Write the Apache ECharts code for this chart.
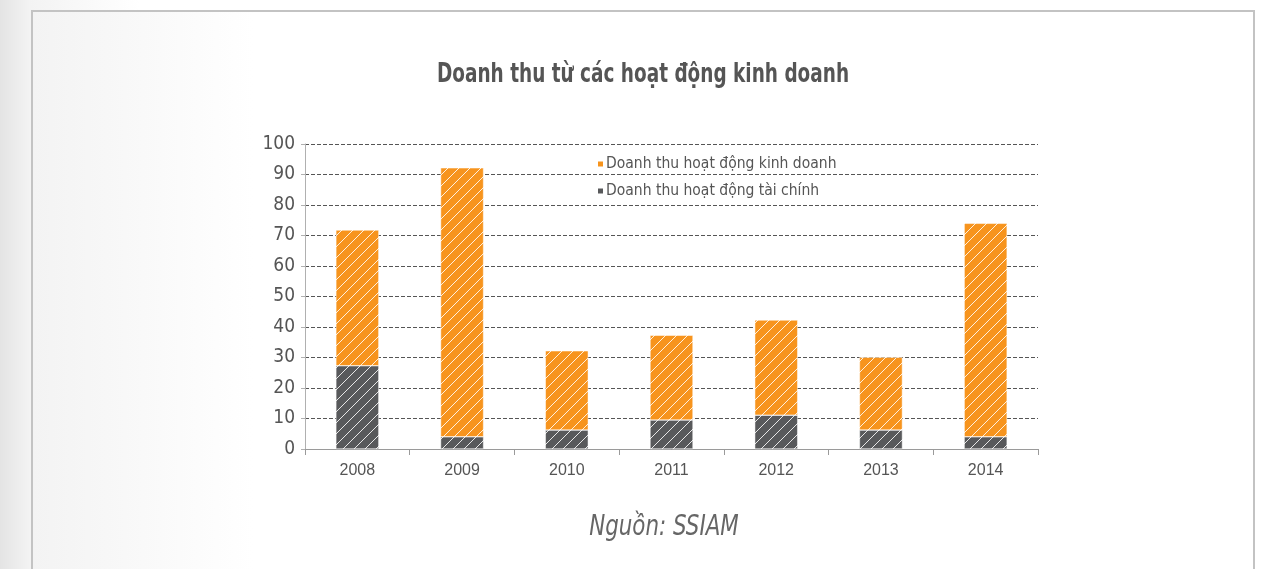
<!DOCTYPE html>
<html lang="vi">
<head>
<meta charset="utf-8">
<script src="https://cdn.jsdelivr.net/npm/echarts@6/dist/echarts.min.js"></script>
<style>
  html, body { margin: 0; padding: 0; width: 1265px; height: 569px; overflow: hidden;
    background: linear-gradient(to right, #e4e4e4 0px, #f3f3f3 30px, #ffffff 140px); }
  #card { position: absolute; left: 31px; top: 10px; width: 1220px; height: 580px;
    border: 2px solid #c3c3c3; background: linear-gradient(to right, #f3f3f3 0px, #ffffff 220px); }
  #main { position: absolute; left: 0; top: 0; width: 1265px; height: 569px; }
</style>
</head>
<body>
<div id="card"></div>
<div id="main"></div>
<script>
// du lieu doc tu hinh
var years = ['2008', '2009', '2010', '2011', '2012', '2013', '2014'];
var taiChinh = [27.3, 4.0, 6.2, 9.5, 11.1, 6.2, 4.0];
var kinhDoanh = [44.5, 88.2, 26.0, 27.8, 31.2, 23.9, 70.0];
var yTicks = [0, 10, 20, 30, 40, 50, 60, 70, 80, 90, 100];

var narrow = "'Liberation Sans Narrow', 'DejaVu Sans Condensed', sans-serif";

// hoa van gach cheo
function hatch(color) {
    var c = document.createElement('canvas');
    c.width = 11; c.height = 11;
    var ctx = c.getContext('2d');
    ctx.fillStyle = color;
    ctx.fillRect(0, 0, 11, 11);
    ctx.strokeStyle = 'rgba(255,255,255,0.85)';
    ctx.lineWidth = 1;
    ctx.beginPath();
    ctx.moveTo(-1, 12); ctx.lineTo(12, -1);
    ctx.moveTo(-12, 12); ctx.lineTo(1, -1);
    ctx.moveTo(10, 12); ctx.lineTo(23, -1);
    ctx.stroke();
    return { image: c, repeat: 'repeat' };
}

var myChart = echarts.init(document.getElementById('main'), null, { renderer: 'canvas' });
myChart.setOption({
    backgroundColor: 'transparent',
    animation: false,
    legend: {
        data: [
            { name: 'Doanh thu hoạt động kinh doanh', itemStyle: { color: '#F7941D' } },
            { name: 'Doanh thu hoạt động tài chính', itemStyle: { color: '#58595B' } }
        ],
        orient: 'vertical',
        left: 591,
        top: 151,
        itemWidth: 7,
        itemHeight: 7,
        itemGap: 11,
        icon: 'rect',
        textStyle: { fontFamily: narrow, fontSize: 15.5, color: '#555555', padding: [0, 0, 0, -3] }
    },
    grid: { left: 305, right: 227, top: 144, bottom: 120 },
    xAxis: {
        type: 'category',
        data: years,
        axisLine: { lineStyle: { color: '#9a9a9a', width: 1 } },
        axisTick: { show: true, length: 6, lineStyle: { color: '#9a9a9a' } },
        axisLabel: { fontFamily: "'Liberation Sans', Arial, sans-serif", fontSize: 16, color: '#555555', margin: 14 }
    },
    yAxis: {
        type: 'value',
        min: yTicks[0],
        max: yTicks[yTicks.length - 1],
        interval: 10,
        axisLine: { show: true, lineStyle: { color: '#b0b0b0' } },
        axisTick: { show: true, length: 4, lineStyle: { color: '#b0b0b0' } },
        axisLabel: { fontFamily: narrow, fontSize: 19, color: '#555555', margin: 10 },
        splitLine: { lineStyle: { color: '#555555', type: [4, 2], width: 1 } }
    },
    series: [
        {
            name: 'Doanh thu hoạt động tài chính',
            type: 'bar',
            stack: 'dt',
            barWidth: 43,
            data: taiChinh,
            itemStyle: { color: hatch('#58595B'), borderColor: '#ffffff', borderWidth: 0.5 }
        },
        {
            name: 'Doanh thu hoạt động kinh doanh',
            type: 'bar',
            stack: 'dt',
            barWidth: 43,
            data: kinhDoanh,
            itemStyle: { color: hatch('#F7941D'), borderColor: '#ffffff', borderWidth: 0.5 }
        }
    ],
    graphic: [
        {
            type: 'text',
            x: 643,
            y: 75,
            scaleX: 0.76,
            style: {
                text: 'Doanh thu từ các hoạt động kinh doanh',
                fontFamily: narrow,
                fontWeight: 'bold',
                fontSize: 27,
                fill: '#555555',
                align: 'center',
                verticalAlign: 'middle'
            }
        },
        {
            type: 'text',
            x: 664,
            y: 528,
            scaleX: 0.85,
            style: {
                text: 'Nguồn: SSIAM',
                fontFamily: narrow,
                fontStyle: 'italic',
                fontSize: 28,
                fill: '#666666',
                align: 'center',
                verticalAlign: 'middle'
            }
        }
    ]
});
</script>
</body>
</html>
